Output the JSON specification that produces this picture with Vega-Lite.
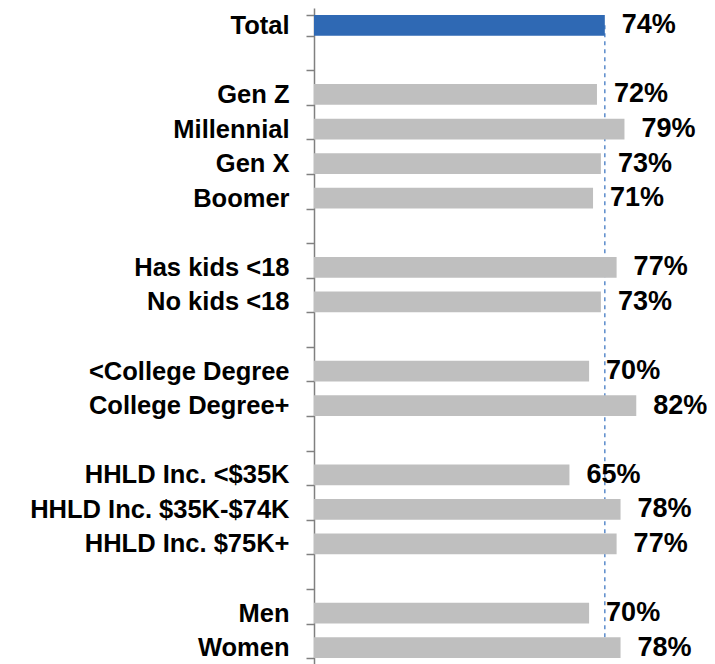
{
  "$schema": "https://vega.github.io/schema/vega-lite/v6.json",
  "autosize": {"type": "none"},
  "padding": {"left": 314, "top": 8, "right": 0, "bottom": 0},
  "width": 393,
  "height": 657,
  "background": "white",
  "config": {"view": {"stroke": null}},
  "data": {
    "values": [
      {"cat": "Total", "v": 0.74},
      {"cat": "Gen Z", "v": 0.72},
      {"cat": "Millennial", "v": 0.79},
      {"cat": "Gen X", "v": 0.73},
      {"cat": "Boomer", "v": 0.71},
      {"cat": "Has kids <18", "v": 0.77},
      {"cat": "No kids <18", "v": 0.73},
      {"cat": "<College Degree", "v": 0.70},
      {"cat": "College Degree+", "v": 0.82},
      {"cat": "HHLD Inc. <$35K", "v": 0.65},
      {"cat": "HHLD Inc. $35K-$74K", "v": 0.78},
      {"cat": "HHLD Inc. $75K+", "v": 0.77},
      {"cat": "Men", "v": 0.70},
      {"cat": "Women", "v": 0.78}
    ]
  },
  "encoding": {
    "y": {
      "field": "cat",
      "type": "nominal",
      "sort": null,
      "scale": {
        "domain": ["Total", " ", "Gen Z", "Millennial", "Gen X", "Boomer", "  ", "Has kids <18", "No kids <18", "   ", "<College Degree", "College Degree+", "    ", "HHLD Inc. <$35K", "HHLD Inc. $35K-$74K", "HHLD Inc. $75K+", "     ", "Men", "Women"],
        "paddingInner": 0.4,
        "paddingOuter": 0.2
      },
      "axis": {
        "title": null,
        "tickBand": "extent",
        "domainColor": "#808080",
        "domainWidth": 1.5,
        "tickColor": "#808080",
        "tickWidth": 1.5,
        "tickSize": 8,
        "labelPadding": 17,
        "labelFont": "Liberation Sans",
        "labelFontWeight": "bold",
        "labelFontSize": 25.5,
        "labelColor": "#000000",
        "labelLimit": 400
      }
    },
    "x": {
      "field": "v",
      "type": "quantitative",
      "scale": {"domain": [0, 1], "nice": false},
      "axis": null
    }
  },
  "layer": [
    {
      "mark": {"type": "rule", "color": "#5B8BCB", "strokeDash": [4, 4], "strokeWidth": 1.5},
      "data": {"values": [{"avg": 0.74}]},
      "encoding": {
        "x": {"field": "avg", "type": "quantitative"},
        "y": {"datum": "Total"},
        "y2": {"datum": "Women", "bandPosition": 1}
      }
    },
    {
      "mark": {"type": "bar"},
      "encoding": {
        "color": {
          "condition": {"test": "datum.cat === 'Total'", "value": "#2F69B4"},
          "value": "#BFBFBF"
        }
      }
    },
    {
      "mark": {
        "type": "text",
        "align": "left",
        "baseline": "middle",
        "dx": 17,
        "font": "Liberation Sans",
        "fontWeight": "bold",
        "fontSize": 27,
        "color": "#000000"
      },
      "encoding": {
        "text": {"field": "v", "type": "quantitative", "format": ".0%"}
      }
    }
  ]
}
